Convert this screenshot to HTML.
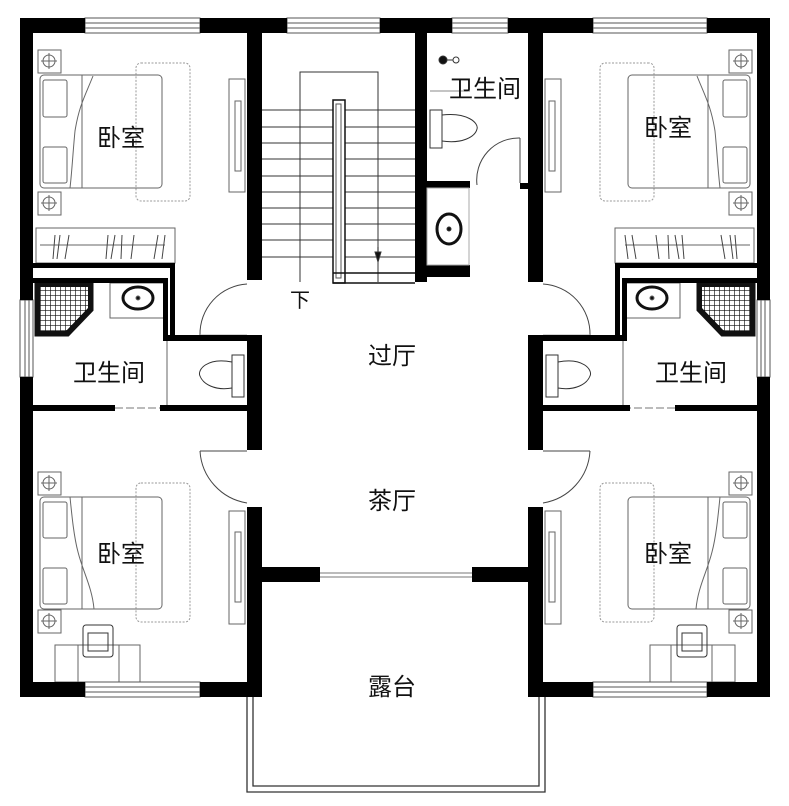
<!DOCTYPE html>
<html><head><meta charset="utf-8"><style>
html,body{margin:0;padding:0;background:#fff;}
svg{display:block;}
text{font-family:"Liberation Sans","Noto Sans CJK SC",sans-serif;font-size:24px;fill:#111;}
</style></head><body>
<svg width="789" height="806" viewBox="0 0 789 806" xmlns="http://www.w3.org/2000/svg">
<defs>
<pattern id="grid" width="5" height="5" patternUnits="userSpaceOnUse">
<rect width="5" height="5" fill="#fff"/><path d="M0 0H5M0 0V5" stroke="#111" stroke-width="1.3"/>
</pattern>
<g id="furn" fill="none" stroke="#666" stroke-width="1">
  <rect x="38" y="50" width="23" height="23"/><circle cx="49" cy="61" r="6"/><path d="M41 61h16M49 53v16"/>
  <rect x="38" y="192" width="23" height="23"/><circle cx="49" cy="203" r="6"/><path d="M41 203h16M49 195v16"/>
  <rect x="40" y="75" width="122" height="113" rx="4"/>
  <path d="M82 75v113"/>
  <rect x="43" y="80" width="24" height="37" rx="2"/><rect x="43" y="147" width="24" height="36" rx="2"/>
  <path d="M93 76c-8 20 -14 30 -18 55c-2 20 -3 40 -5 57"/>
  <rect x="136" y="63" width="54" height="138" rx="5" stroke="#999" stroke-dasharray="2 1.5"/>
  <rect x="229" y="79" width="16" height="113"/><rect x="235" y="101" width="6" height="70"/>
  <rect x="36" y="228" width="139" height="35"/><path d="M40 245h125"/>
  <path d="M55 235l-2 24M60 235l-3 24M69 235l-4 24M108 235l-2 24M115 235l-4 24M122 235l-1 24M134 235l-3 24M158 235l-4 24M165 235l-3 24" stroke="#444"/>
  <rect x="38" y="472" width="23" height="23"/><circle cx="49" cy="483" r="6"/><path d="M41 483h16M49 475v16"/>
  <rect x="38" y="610" width="23" height="23"/><circle cx="49" cy="621" r="6"/><path d="M41 621h16M49 613v16"/>
  <rect x="40" y="497" width="122" height="112" rx="4"/>
  <path d="M82 497v112"/>
  <rect x="43" y="502" width="24" height="36" rx="2"/><rect x="43" y="568" width="24" height="36" rx="2"/>
  <path d="M70 497c2 20 4 40 8 55c5 20 14 35 16 57"/>
  <rect x="136" y="483" width="54" height="139" rx="5" stroke="#999" stroke-dasharray="2 1.5"/>
  <rect x="229" y="511" width="16" height="113"/><rect x="235" y="532" width="6" height="70"/>
  <rect x="55" y="645" width="85" height="37"/><path d="M78 645v37M119 645v37"/>
  <rect x="83" y="625" width="30" height="32" rx="3" stroke="#333"/><rect x="88" y="633" width="20" height="18" stroke="#333"/>
  <polygon points="36,283 92,283 92,310 68,335 36,335" fill="#111" stroke="#111" stroke-width="3"/>
  <polygon points="40,287 88,287 88,308 66,331 40,331" fill="url(#grid)" stroke="none"/>
  <rect x="110" y="283" width="55" height="35"/>
  <ellipse cx="138" cy="298" rx="15" ry="11" stroke="#111" stroke-width="3"/><circle cx="138" cy="298" r="2" fill="#111"/>
  <path d="M167 340v65"/>
  <rect x="232" y="355" width="12" height="42" stroke="#333"/>
  <path d="M232 362c-25 -5 -35 8 -32 14c3 8 15 15 32 12" stroke="#333"/>
  <path d="M200 335A50 50 0 0 1 247 284" stroke="#444"/><path d="M200 335h47" stroke="#aaa"/>
  <path d="M200 451h47M200 451A56 56 0 0 0 247 503" stroke="#444"/>
  <path d="M115 408h45" stroke="#777" stroke-dasharray="8 3"/>
</g>
</defs>

<use href="#furn"/>
<use href="#furn" transform="translate(790,0) scale(-1,1)"/>

<g fill="#fff" stroke="#555" stroke-width="1">
  <rect x="85" y="18" width="115" height="15"/><path d="M85 23h115M85 28h115"/>
  <rect x="287" y="18" width="93" height="15"/><path d="M287 23h93M287 28h93"/>
  <rect x="452" y="18" width="56" height="15"/><path d="M452 23h56M452 28h56"/>
  <rect x="593" y="18" width="114" height="15"/><path d="M593 23h114M593 28h114"/>
  <rect x="85" y="682" width="115" height="15"/><path d="M85 687h115M85 692h115"/>
  <rect x="593" y="682" width="114" height="15"/><path d="M593 687h114M593 692h114"/>
  <rect x="20" y="300" width="13" height="77"/><path d="M25 300v77M29 300v77"/>
  <rect x="757" y="300" width="13" height="77"/><path d="M761 300v77M765 300v77"/>
</g>

<g fill="#000">
  <rect x="20" y="18" width="65" height="15"/><rect x="200" y="18" width="87" height="15"/>
  <rect x="380" y="18" width="72" height="15"/><rect x="508" y="18" width="85" height="15"/>
  <rect x="707" y="18" width="63" height="15"/>
  <rect x="20" y="18" width="13" height="282"/><rect x="20" y="377" width="13" height="320"/>
  <rect x="757" y="18" width="13" height="282"/><rect x="757" y="377" width="13" height="320"/>
  <rect x="20" y="682" width="65" height="15"/><rect x="200" y="682" width="62" height="15"/>
  <rect x="528" y="682" width="65" height="15"/><rect x="707" y="682" width="63" height="15"/>
  <rect x="247" y="33" width="15" height="247"/>
  <rect x="247" y="335" width="15" height="115"/>
  <rect x="247" y="507" width="15" height="190"/>
  <rect x="247" y="567" width="73" height="15"/>
  <rect x="415" y="33" width="12" height="249"/>
  <rect x="528" y="33" width="15" height="249"/>
  <rect x="528" y="335" width="15" height="115"/>
  <rect x="528" y="507" width="15" height="190"/>
  <rect x="472" y="567" width="71" height="15"/>
  <rect x="33" y="263" width="142" height="5"/><rect x="170" y="263" width="5" height="72"/>
  <rect x="33" y="278" width="135" height="5"/><rect x="163" y="278" width="5" height="62"/>
  <rect x="163" y="335" width="99" height="6"/>
  <rect x="33" y="405" width="82" height="6"/><rect x="160" y="405" width="87" height="6"/>
  <rect x="615" y="263" width="142" height="5"/><rect x="615" y="263" width="5" height="72"/>
  <rect x="622" y="278" width="135" height="5"/><rect x="622" y="278" width="5" height="62"/>
  <rect x="528" y="335" width="99" height="6"/>
  <rect x="543" y="405" width="87" height="6"/><rect x="675" y="405" width="82" height="6"/>
  <rect x="427" y="181" width="43" height="7"/>
  <rect x="427" y="265" width="43" height="12"/>
  <rect x="520" y="183" width="10" height="6"/>
</g>

<g fill="none" stroke="#333" stroke-width="1">
  <path d="M300 282V72H378V282"/>
  <path d="M262 110H415M262 127H415M262 143H415M262 159H415M262 176H415M262 192H415M262 208H415M262 224H415M262 240H415M262 257H415"/>
  <rect x="333" y="100" width="12" height="183" fill="#fff" stroke="#111" stroke-width="1.5"/>
  <rect x="336" y="104" width="5" height="174" stroke="#555"/>
  <path d="M333 273H415M333 283H415" stroke="#111" stroke-width="1.5"/>
  <path d="M378 247v15" stroke="#111"/><path d="M375 252l3 10l3 -10z" fill="#111"/>
</g>

<g fill="none" stroke="#333" stroke-width="1">
  <path d="M430 91H470" stroke="#888"/>
  <circle cx="443" cy="60" r="4" fill="#111"/><path d="M447 60h6"/><circle cx="456" cy="60" r="3"/>
  <rect x="430" y="110" width="12" height="38"/>
  <path d="M442 115c25 -3 37 8 35 14c-2 8 -15 15 -35 12"/>
  <rect x="427" y="188" width="42" height="77" stroke="#aaa"/>
  <ellipse cx="449" cy="229" rx="12" ry="15" stroke="#111" stroke-width="3"/><circle cx="449" cy="229" r="2" fill="#111"/>
  <path d="M520 138V183M520 138A42 42 0 0 0 477 185" stroke="#444"/>
</g>

<path d="M320 573H472M320 577H472" stroke="#777" stroke-width="1"/>

<g fill="none" stroke="#333" stroke-width="1.3">
  <path d="M247 697V792H545V697"/><path d="M253 697V786H539V697"/>
</g>

<text x="97" y="146">卧室</text>
<text x="644" y="136">卧室</text>
<text x="97" y="562">卧室</text>
<text x="644" y="562">卧室</text>
<text x="73" y="381">卫生间</text>
<text x="449" y="97">卫生间</text>
<text x="655" y="381">卫生间</text>
<text x="368" y="364">过厅</text>
<text x="368" y="509">茶厅</text>
<text x="368" y="695">露台</text>
<text x="290" y="307" style="font-size:20px">下</text>
</svg>
</body></html>
